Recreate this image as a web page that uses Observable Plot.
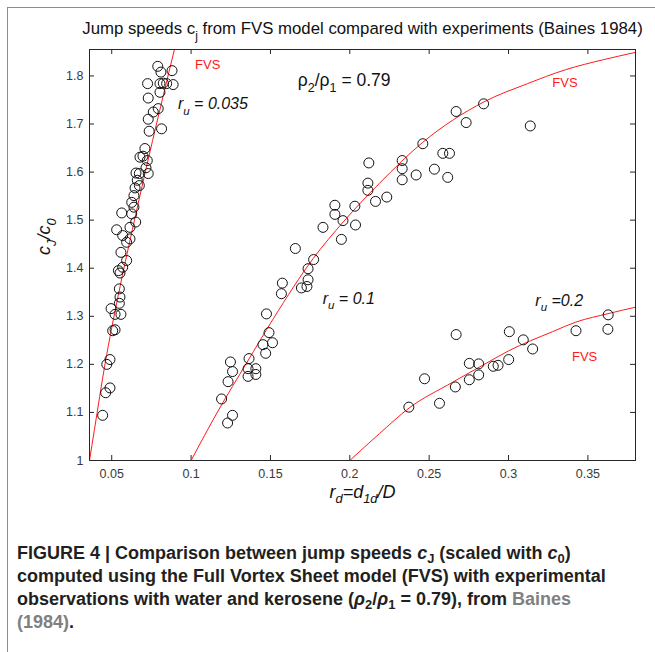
<!DOCTYPE html>
<html><head><meta charset="utf-8">
<script src="https://cdn.jsdelivr.net/npm/d3@7"></script>
<script src="https://cdn.jsdelivr.net/npm/@observablehq/plot@0.6"></script>
<style>
html,body{margin:0;padding:0;background:#fff;}
#wrap{position:relative;width:655px;height:652px;overflow:hidden;font-family:"Liberation Sans",Arial,sans-serif;}
#chart{position:absolute;left:0;top:0;}
#chart svg{background:transparent !important;}
#caption{position:absolute;left:17px;top:542px;width:640px;font-weight:bold;font-size:18px;line-height:23px;color:#231f20;white-space:nowrap;}
#caption .ref{color:#7f7f7f;}
#caption sub{font-size:72%;vertical-align:-0.28em;line-height:0;}
.bline{position:absolute;background:#8c8c8c;z-index:50;}
</style></head><body>
<div id="wrap"><div id="chart"></div>
<div id="caption">FIGURE 4 | Comparison between jump speeds <i>c</i><sub>J</sub> (scaled with <i>c</i><sub>0</sub>)<br>computed using the Full Vortex Sheet model (FVS) with experimental<br>observations with water and kerosene (<i>ρ</i><sub>2</sub>/<i>ρ</i><sub>1</sub> = 0.79), from <span class="ref">Baines</span><br><span class="ref">(1984)</span>.</div>
<div class="bline" style="left:7px;top:7px;width:1px;height:645px;"></div>
<div class="bline" style="left:7px;top:7px;width:648px;height:1px;"></div>
</div>
<script>
// ---- axis ticks ----
const xTicks = [0.05, 0.1, 0.15, 0.2, 0.25, 0.3, 0.35];
const yTicks = [1, 1.1, 1.2, 1.3, 1.4, 1.5, 1.6, 1.7, 1.8];

// ---- experiments, r_u = 0.035 ----
const ru035X = [0.079,0.081,0.088,0.0726,0.0804,0.0825,0.0846,0.0887,0.0804,0.073,0.0793,0.0762,0.073,0.0736,0.0814,0.0709,0.0678,0.0697,0.0724,0.0716,0.0653,0.0674,0.073,0.0661,0.0674,0.0647,0.064,0.0626,0.064,0.0563,0.0626,0.0651,0.0615,0.0531,0.0569,0.0594,0.0615,0.0558,0.0594,0.0569,0.0542,0.0552,0.0548,0.0552,0.0548,0.0496,0.0521,0.0558,0.0506,0.0521,0.0469,0.0489,0.0462,0.0489,0.0443];
const ru035Y = [1.820,1.808,1.811,1.784,1.784,1.785,1.784,1.782,1.766,1.754,1.732,1.725,1.710,1.685,1.690,1.649,1.631,1.633,1.624,1.609,1.598,1.597,1.597,1.583,1.572,1.567,1.551,1.537,1.527,1.515,1.513,1.496,1.485,1.480,1.468,1.454,1.461,1.433,1.416,1.402,1.395,1.390,1.357,1.340,1.327,1.316,1.304,1.304,1.270,1.272,1.200,1.210,1.141,1.151,1.094];

// ---- experiments, r_u = 0.1 ----
const ru01X = [0.267,0.2843,0.2733,0.3137,0.246,0.2586,0.2628,0.233,0.233,0.2418,0.2533,0.2617,0.233,0.2233,0.212,0.2114,0.2114,0.2162,0.1906,0.2032,0.1906,0.1957,0.2036,0.1831,0.1947,0.1657,0.1772,0.1737,0.1737,0.1575,0.1695,0.173,0.1569,0.1475,0.1491,0.1453,0.1513,0.147,0.1365,0.1248,0.1261,0.1359,0.1408,0.1359,0.1408,0.1233,0.1192,0.1261,0.123];
const ru01Y = [1.726,1.742,1.703,1.696,1.659,1.639,1.639,1.624,1.607,1.594,1.606,1.589,1.584,1.548,1.619,1.577,1.562,1.539,1.531,1.529,1.512,1.499,1.490,1.485,1.460,1.441,1.418,1.399,1.376,1.369,1.359,1.362,1.347,1.305,1.266,1.241,1.245,1.223,1.212,1.205,1.185,1.191,1.191,1.175,1.179,1.164,1.128,1.094,1.078];

// ---- experiments, r_u = 0.2 ----
const ru02X = [0.2372,0.2471,0.2565,0.267,0.2665,0.2753,0.2753,0.2812,0.2812,0.2904,0.2934,0.3005,0.3001,0.3093,0.3152,0.3425,0.3628,0.3626];
const ru02Y = [1.111,1.170,1.119,1.262,1.153,1.202,1.168,1.201,1.178,1.196,1.198,1.268,1.210,1.251,1.232,1.270,1.303,1.273];

// ---- FVS model curves ----
const fvs1X = [0.036,0.039,0.0458,0.0542,0.063,0.0715,0.080,0.0895];
const fvs1Y = [1.0,1.062,1.201,1.345,1.48,1.605,1.725,1.855];
const fvs2X = [0.1,0.117,0.135,0.152,0.1769,0.1958,0.2188,0.246,0.2845,0.312,0.336,0.36,0.38];
const fvs2Y = [1.0,1.103,1.203,1.296,1.42,1.496,1.577,1.662,1.746,1.784,1.813,1.834,1.849];
const fvs3X = [0.2,0.2187,0.2373,0.2649,0.2858,0.30,0.3277,0.3425,0.3634,0.38];
const fvs3Y = [1.0,1.056,1.109,1.163,1.202,1.228,1.268,1.288,1.306,1.319];

const zip = (X, Y) => X.map((x, i) => ({x, y: Y[i]}));
const pts = [...zip(ru035X, ru035Y), ...zip(ru01X, ru01Y), ...zip(ru02X, ru02Y)];

const W = 655, H = 515, mT = 49, mB = 55, mL = 89, mR = 20;
const frameH = H - mT - mB, frameW = W - mL - mR, tk = 5;
const ink = "#262626";
const red = "#ff1a1a";

const chart = Plot.plot({
  width: W, height: H,
  marginTop: mT, marginBottom: mB, marginLeft: mL, marginRight: mR,
  style: {fontFamily: "'Liberation Sans', Arial, sans-serif", background: "transparent"},
  x: {domain: [0.036, 0.38]},
  y: {domain: [1, 1.855]},
  marks: [
    Plot.axisX(xTicks, {tickSize: 0, tickPadding: 9, fontSize: 12.5, fill: "#3a3a3a", tickFormat: d => String(d), label: null}),
    Plot.axisY(yTicks, {tickSize: 0, tickPadding: 6, fontSize: 12.5, fill: "#3a3a3a", tickFormat: d => String(d), label: null}),
    // inward ticks on all four sides
    Plot.tickX(xTicks, {x: d => d, insetBottom: frameH - tk, stroke: ink}),
    Plot.tickX(xTicks, {x: d => d, insetTop: frameH - tk, stroke: ink}),
    Plot.tickY(yTicks, {y: d => d, insetRight: frameW - tk, stroke: ink}),
    Plot.tickY(yTicks, {y: d => d, insetLeft: frameW - tk, stroke: ink}),
    Plot.line(zip(fvs1X, fvs1Y), {x: "x", y: "y", stroke: red, strokeWidth: 1, curve: "monotone-x", clip: true}),
    Plot.line(zip(fvs2X, fvs2Y), {x: "x", y: "y", stroke: red, strokeWidth: 1, curve: "monotone-x", clip: true}),
    Plot.line(zip(fvs3X, fvs3Y), {x: "x", y: "y", stroke: red, strokeWidth: 1, curve: "monotone-x", clip: true}),
    Plot.dot(pts, {x: "x", y: "y", r: 5, stroke: "#111", strokeWidth: 1, fill: "none"}),
    Plot.frame({stroke: ink}),
    // annotations
    Plot.text(["FVS"], {x: 0.1025, y: 1.824, textAnchor: "start", fill: red, fontSize: 13}),
    Plot.text(["FVS"], {x: 0.3276, y: 1.786, textAnchor: "start", fill: red, fontSize: 13}),
    Plot.text(["FVS"], {x: 0.3400, y: 1.216, textAnchor: "start", fill: red, fontSize: 13}),
    Plot.text(["r_{u} = 0.035"], {x: 0.0917, y: 1.741, textAnchor: "start", fontSize: 16, fontStyle: "italic", fill: "#111"}),
    Plot.text(["r_{u} = 0.1"], {x: 0.1829, y: 1.337, textAnchor: "start", fontSize: 16, fontStyle: "italic", fill: "#111"}),
    Plot.text(["r_{u} =0.2"], {x: 0.3169, y: 1.333, textAnchor: "start", fontSize: 16, fontStyle: "italic", fill: "#111"}),
    Plot.text(["ρ_{2}/ρ_{1} = 0.79"], {x: 0.1672, y: 1.791, textAnchor: "start", fontSize: 17.5, fill: "#111"}),
    // title and axis labels
    Plot.text(["Jump speeds c_{j} from FVS model compared with experiments (Baines 1984)"], {frameAnchor: "top", dy: -27, fontSize: 16.8, fill: "#111"}),
    Plot.text(["c_{J}/c_{0}"], {frameAnchor: "left", dx: -45, rotate: -90, fontSize: 18, fontStyle: "italic", fill: "#111"}),
    Plot.text(["r_{d}=d_{1d}/D"], {frameAnchor: "bottom", dy: 37, fontSize: 18, fontStyle: "italic", fill: "#111"})
  ]
});
document.getElementById("chart").appendChild(chart);

// page border (decoration) drawn inside the svg too, so it shows above the chart area
d3.select(chart).append("path")
  .attr("d", `M7.5,${H} V7.5 H${W}`)
  .attr("fill", "none").attr("stroke", "#8c8c8c").attr("stroke-width", 1);

// turn "_{..}" markers into subscript tspans
chart.querySelectorAll("text").forEach(el => {
  const s = el.textContent;
  if (!s.includes("_{")) return;
  const fs = parseFloat(getComputedStyle(el).fontSize) || 14;
  const sh = fs * 0.33;
  while (el.firstChild) el.removeChild(el.firstChild);
  let down = false;
  s.split(/(_\{[^}]*\})/).filter(Boolean).forEach(p => {
    const t = document.createElementNS("http://www.w3.org/2000/svg", "tspan");
    if (p.startsWith("_{")) {
      t.textContent = p.slice(2, -1);
      t.setAttribute("font-size", (fs * 0.72) + "px");
      if (!down) { t.setAttribute("dy", sh); down = true; }
    } else {
      t.textContent = p;
      if (down) { t.setAttribute("dy", -sh); down = false; }
    }
    el.appendChild(t);
  });
});
</script>
</body></html>
